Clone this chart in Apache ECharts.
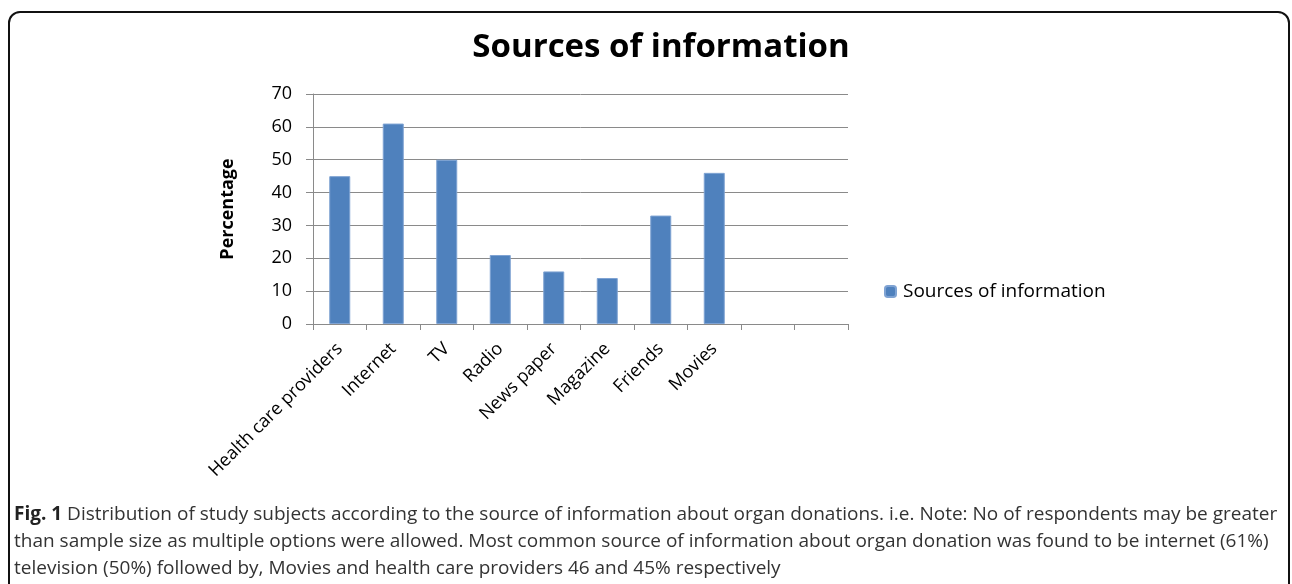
<!DOCTYPE html>
<html>
<head>
<meta charset="utf-8">
<script src="https://cdn.jsdelivr.net/npm/echarts@6/dist/echarts.min.js"></script>
<style>
html,body{margin:0;padding:0;background:#fff;}
#chart{width:1292px;height:584px;}
</style>
</head>
<body>
<div id="chart"></div>
<script>
const categories = ['Health care providers','Internet','TV','Radio','News paper','Magazine','Friends','Movies','',' '];
const values = [45, 61, 50, 21, 16, 14, 33, 46, null, null];
const seriesName = 'Sources of information';
const chartTitle = 'Sources of information';
const yAxisName = 'Percentage';
const captionLines = [
  'Distribution of study subjects according to the source of information about organ donations. i.e. Note: No of respondents may be greater',
  'than sample size as multiple options were allowed. Most common source of information about organ donation was found to be internet (61%)',
  'television (50%) followed by, Movies and health care providers 46 and 45% respectively'
];

const chart = echarts.init(document.getElementById('chart'));
const gridColor = '#8a8a8a';
chart.setOption({
  animation: false,
  textStyle: {fontFamily: 'Open Sans'},
  title: {
    text: chartTitle,
    left: 656, top: 26,
    textAlign: 'center',
    textStyle: {fontFamily: 'Open Sans', fontWeight: 'bold', fontSize: 33, color: '#000'}
  },
  legend: {
    data: [seriesName],
    left: 879, top: 277,
    itemWidth: 11, itemHeight: 11, itemGap: 6,
    textStyle: {fontSize: 19, color: '#000', fontFamily: 'Open Sans', padding: [0, 0, 0, 2]}
  },
  grid: {left: 313, right: 444, top: 94, bottom: 260, containLabel: false},
  xAxis: {
    type: 'category',
    data: categories,
    axisLine: {lineStyle: {color: gridColor, width: 1}},
    axisTick: {show: true, length: 6, alignWithLabel: false, lineStyle: {color: gridColor}},
    axisLabel: {rotate: 45, fontSize: 18, color: '#000', margin: 22, interval: 0}
  },
  yAxis: {
    type: 'value',
    min: 0, max: 70, interval: 10,
    name: yAxisName,
    nameLocation: 'middle',
    nameGap: 76,
    nameTextStyle: {fontWeight: 'bold', fontSize: 18, color: '#000', fontFamily: 'Open Sans'},
    axisLine: {show: true, lineStyle: {color: gridColor}},
    axisTick: {show: true, length: 7, lineStyle: {color: gridColor}},
    axisLabel: {fontSize: 18, color: '#000', margin: 21},
    splitLine: {lineStyle: {color: gridColor, width: 1}}
  },
  series: [{
    name: seriesName,
    type: 'bar',
    data: values,
    barWidth: 21,
    itemStyle: {color: '#4F81BD', borderColor: '#7FA3D3', borderWidth: 1}
  }],
  graphic: [
    {type: 'rect', shape: {x: 9, y: 12, width: 1280, height: 620, r: 11}, style: {fill: 'none', stroke: '#111', lineWidth: 2}, silent: true},
    {type: 'text', left: 14, top: 505, style: {
      text: '{b|Fig. 1} ' + captionLines[0], rich: {b: {fontWeight: 'bold', fontSize: 19, fontFamily: 'Open Sans', fill: '#222'}},
      fontSize: 19, fontFamily: 'Open Sans', fill: '#333'}},
    {type: 'text', left: 14, top: 532, style: {text: captionLines[1], fontSize: 19, fontFamily: 'Open Sans', fill: '#333'}},
    {type: 'text', left: 14, top: 559, style: {text: captionLines[2], fontSize: 19, fontFamily: 'Open Sans', fill: '#333'}}
  ]
});
</script>
</body>
</html>
